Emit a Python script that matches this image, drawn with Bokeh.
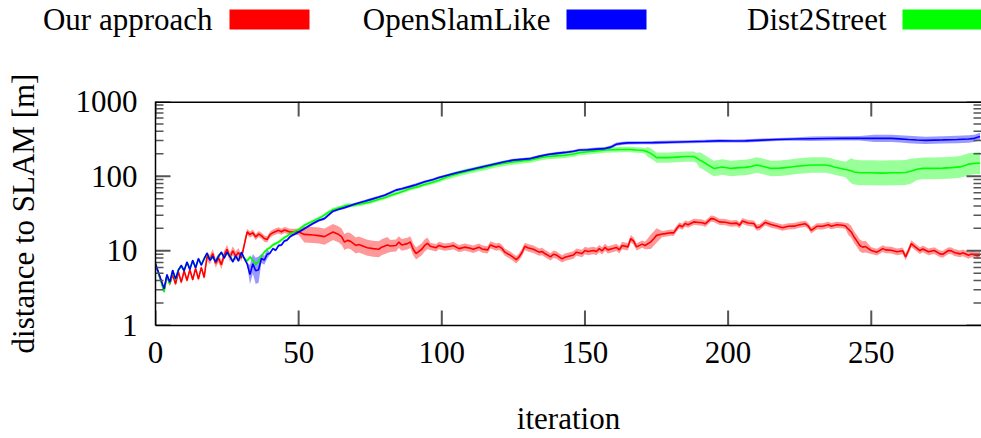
import numpy as np
from bokeh.plotting import figure
from bokeh.layouts import column
from bokeh.models import Range1d, FixedTicker, PrintfTickFormatter
from bokeh.embed import file_html
from bokeh.resources import INLINE

FONT = "Liberation Serif"
FS = "31px"

# ---------------- data ----------------
series_names = ["Our approach", "OpenSlamLike", "Dist2Street"]
series_colors = ["#ff0000", "#0000ff", "#00ff00"]
x_title = "iteration"
y_title = "distance to SLAM [m]"

x_ticks = [0, 50, 100, 150, 200, 250]
y_ticks = [1, 10, 100, 1000]
x_max = 288.5

# Our approach (red)
red_iter_early = list(range(0, 51))
red_early = [6.5, 5.0, 3.9, 3.0, 4.6, 3.6, 4.8, 3.6, 5.2, 3.8,
             5.4, 4.0, 5.6, 4.1, 5.8, 4.2, 6.0, 4.4, 8.5, 7.6,
             9.2, 6.8, 8.0, 6.5, 8.8, 10.5, 8.2, 10.0, 8.5, 9.5,
             8.0, 12.0, 17.9, 16.5, 17.5, 15.3, 16.8, 16.0, 14.6, 14.2,
             16.5, 17.5, 18.2, 18.8, 18.0, 19.0, 18.5, 17.9, 17.9, 18.0,
             17.9]
red_iter_late = [52, 55, 57, 59, 62, 64, 65, 66, 67, 68,
                 70, 71, 74, 76, 78, 79, 81, 82, 84, 85,
                 86, 88, 89, 90, 91, 93, 94, 95, 96, 98,
                 99, 101, 103, 104, 106, 108, 110, 111, 113, 114,
                 116, 117, 119, 120, 121, 122, 124, 126, 127, 128,
                 129, 130, 132, 134, 135, 136, 138, 139, 140, 142,
                 143, 144, 146, 147, 149, 150, 151, 153, 154, 155,
                 156, 157, 158, 160, 161, 162, 163, 165, 166, 167,
                 168, 170, 171, 173, 174, 175, 177, 178, 180, 181,
                 182, 183, 184, 185, 186, 188, 189, 191, 192, 194,
                 195, 197, 199, 201, 203, 204, 205, 207, 209, 210,
                 211, 213, 215, 217, 219, 221, 223, 225, 227, 228,
                 229, 231, 233, 235, 236, 238, 240, 241, 242, 243,
                 244, 245, 246, 247, 248, 250, 252, 254, 255, 257,
                 259, 261, 262, 263, 264, 265, 267, 268, 270, 272,
                 274, 275, 277, 278, 279, 281, 282, 284, 285, 287,
                 288]
red_late = [16.6, 16.3, 16.0, 15.5, 17.9, 16.5, 15.5, 13.1, 13.8, 13.5,
            11.8, 12.2, 11.0, 10.7, 10.5, 11.2, 12.0, 11.6, 11.8, 13.1,
            12.0, 12.5, 13.1, 10.5, 9.2, 10.5, 11.8, 12.6, 11.5, 11.0,
            11.8, 11.2, 11.5, 11.8, 10.7, 11.2, 10.8, 10.5, 11.2, 10.6,
            10.3, 12.0, 11.2, 11.5, 10.8, 9.6, 8.7, 7.6, 8.3, 9.5,
            11.5, 11.0, 10.5, 9.6, 9.8, 9.2, 8.3, 9.0, 8.8, 7.8,
            8.2, 8.4, 8.8, 9.6, 9.2, 10.1, 9.8, 10.1, 9.8, 10.7,
            10.0, 11.1, 10.3, 10.8, 11.1, 10.3, 11.8, 11.3, 14.6, 13.5,
            11.3, 12.3, 11.8, 13.2, 14.5, 16.1, 16.8, 17.0, 17.5, 17.4,
            19.8, 22.0, 21.0, 23.2, 22.4, 24.4, 24.2, 23.8, 23.0, 27.0,
            26.8, 24.4, 24.2, 23.2, 23.5, 22.0, 25.1, 23.6, 23.2, 20.4,
            20.8, 24.0, 22.5, 21.5, 20.4, 21.3, 21.4, 22.4, 23.0, 21.5,
            18.8, 21.3, 21.3, 22.3, 21.4, 22.3, 22.0, 21.5, 19.5, 17.9,
            15.3, 13.5, 11.8, 11.2, 11.4, 10.1, 9.6, 10.7, 10.3, 10.2,
            9.7, 10.0, 8.3, 10.1, 12.5, 11.6, 10.1, 10.6, 9.7, 10.1,
            9.1, 9.0, 10.1, 10.0, 9.5, 9.1, 9.4, 8.7, 9.1, 8.6,
            8.8]
red_spread_start = [0, 18, 30, 52, 82, 96, 172, 177, 242, 249]
red_spread = [1.07, 1.15, 1.1, 1.28, 1.2, 1.12, 1.25, 1.1, 1.2, 1.11]

# OpenSlamLike (blue)
blue_iter_early = list(range(0, 51))
blue_early = [6.7, 5.2, 4.0, 3.1, 4.8, 3.8, 5.5, 4.2, 5.5, 6.4,
              5.4, 7.1, 5.6, 7.5, 5.9, 7.9, 6.4, 7.9, 9.3, 7.5,
              8.4, 7.1, 8.4, 9.6, 8.0, 9.6, 8.4, 7.1, 8.6, 7.3,
              9.6, 7.9, 6.7, 4.8, 6.7, 5.4, 5.6, 7.9, 7.5, 9.0,
              9.3, 10.7, 10.2, 11.8, 12.0, 13.5, 14.0, 15.5, 16.3, 17.0,
              17.9]
blue_iter_late = [52, 55, 57, 59, 62, 64, 66, 70, 73, 75,
                  78, 80, 84, 86, 89, 91, 94, 97, 99, 102,
                  105, 108, 111, 114, 117, 119, 122, 125, 128, 131,
                  134, 137, 140, 143, 146, 148, 151, 154, 157, 159,
                  161, 163, 165, 170, 174, 180, 186, 192, 197, 202,
                  206, 212, 217, 223, 229, 235, 240, 246, 251, 257,
                  260, 263, 266, 269, 272, 275, 280, 284, 286, 288]
blue_late = [19.8, 23.2, 25.5, 27.0, 34.0, 36.0, 37.9, 42.8, 46.0, 48.5,
             52.5, 55.5, 65.0, 68.0, 73.0, 77.0, 84.0, 90.0, 95.8, 103,
             110, 117, 125, 133, 141, 147, 156, 164, 168, 172,
             184, 195, 202, 208, 216, 224, 226, 230, 234, 245,
             268, 275, 279, 280, 281, 285, 289, 293, 297, 296,
             297, 304, 310, 314, 317, 319, 321, 322, 321, 321,
             316, 310, 305, 302, 304, 306, 310, 315, 321, 340]
blue_spread_start = [0, 33, 35, 37, 40, 150, 225, 250]
blue_spread = [1.04, 1.35, 1.5, 1.15, 1.04, 1.05, 1.07, 1.12]

# Dist2Street (green)
green_iter_early = list(range(0, 51))
green_early = [6.8, 5.0, 3.8, 2.8, 4.7, 3.6, 5.4, 4.1, 5.6, 6.2,
               5.5, 7.0, 5.8, 7.3, 6.0, 7.8, 6.6, 7.7, 9.1, 7.8,
               8.2, 7.3, 8.6, 9.4, 8.2, 9.4, 8.6, 7.3, 8.4, 7.5,
               9.4, 8.0, 7.3, 8.3, 7.5, 6.6, 7.2, 8.5, 9.6, 10.5,
               11.0, 12.0, 12.5, 13.1, 14.0, 15.0, 15.8, 17.0, 17.5, 18.5,
               19.2]
green_iter_late = [52, 55, 58, 60, 62, 65, 67, 69, 71, 73,
                   75, 78, 80, 83, 85, 87, 89, 92, 94, 96,
                   99, 102, 105, 108, 111, 114, 117, 119, 122, 125,
                   128, 131, 134, 137, 140, 143, 146, 148, 151, 154,
                   157, 160, 163, 166, 168, 170, 171, 172, 173, 174,
                   175, 179, 182, 185, 188, 189, 190, 191, 193, 195,
                   198, 201, 204, 206, 208, 210, 212, 213, 215, 218,
                   220, 222, 224, 227, 229, 232, 234, 236, 237, 239,
                   241, 243, 244, 246, 250, 254, 257, 260, 262, 264,
                   266, 268, 271, 275, 278, 281, 283, 284, 286, 288]
green_late = [22.0, 25.0, 28.5, 32.0, 35.5, 38.5, 40.8, 40.8, 42.0, 43.5,
              45.0, 49.0, 51.5, 57.0, 60.0, 64.0, 68.2, 73.0, 77.5, 81.0,
              88.0, 98.0, 106, 114, 121, 128, 136, 142, 149, 155,
              160, 165, 175, 183, 187, 191, 198, 206, 212, 218,
              224, 226, 228, 228, 224, 222, 218, 210, 202, 190,
              177, 177, 180, 183, 183, 175, 165, 158, 141, 127,
              133, 127, 130, 131, 135, 141, 136, 133, 127, 128,
              130, 133, 136, 139, 141, 141, 141, 137, 133, 128,
              123, 118, 114, 111, 111, 110, 111, 111, 112, 117,
              124, 127, 127, 128, 130, 133, 140, 145, 148, 150]
green_spread_start = [0, 60, 100, 150, 172, 190, 243, 266]
green_spread = [1.05, 1.06, 1.09, 1.09, 1.17, 1.27, 1.47, 1.4]


def band(xs, ys, starts, factors):
    xs = np.asarray(xs, dtype=float)
    ys = np.asarray(ys, dtype=float)
    idx = np.searchsorted(np.asarray(starts), xs, side="right") - 1
    f = np.asarray(factors)[idx]
    return xs, ys, ys / f, ys * f


series = [
    (red_iter_early + red_iter_late, red_early + red_late, red_spread_start, red_spread, series_colors[0]),
    (green_iter_early + green_iter_late, green_early + green_late, green_spread_start, green_spread, series_colors[2]),
    (blue_iter_early + blue_iter_late, blue_early + blue_late, blue_spread_start, blue_spread, series_colors[1]),
]

# ---------------- layout constants ----------------
W = 981
LEFT = 155
LEG_H = 50            # legend strip on top
BOT_H = 60            # strip holding the x-axis title
MAIN_H = 438 - LEG_H - BOT_H
FRAME_TOP = 101 - LEG_H
FRAME_BOTTOM_BORDER = MAIN_H - (325 - LEG_H)
FRAME_W = W - LEFT
FRAME_H = MAIN_H - FRAME_TOP - FRAME_BOTTOM_BORDER
TICK_COLOR = "#555555"
MAJOR_PX, MINOR_PX = 15, 8

# ---------------- main plot ----------------
p = figure(width=W, height=MAIN_H, x_range=Range1d(0, x_max), y_range=Range1d(y_ticks[0], y_ticks[-1]),
           y_axis_type="log", toolbar_location=None, output_backend="svg",
           min_border_left=LEFT, min_border_right=0, min_border_top=FRAME_TOP,
           min_border_bottom=FRAME_BOTTOM_BORDER,
           background_fill_color="white", border_fill_color="white")
p.grid.visible = False
p.outline_line_color = None

for xs, ys, st, fa, col in series:
    x, y, lo, hi = band(xs, ys, st, fa)
    p.varea(x=x, y1=lo, y2=hi, fill_color=col, fill_alpha=0.4)
for xs, ys, st, fa, col in series:
    p.line(x=xs, y=ys, line_color=col, line_width=1.6)

xt = FixedTicker(ticks=x_ticks, minor_ticks=[])
y_minor = [m * d for d in y_ticks[:-1] for m in range(2, 10)]
yt = FixedTicker(ticks=y_ticks, minor_ticks=y_minor)

for ax in (p.xaxis[0], p.yaxis[0]):
    ax.major_tick_line_color = None
    ax.minor_tick_line_color = None
    ax.major_tick_out = 0
    ax.minor_tick_out = 0
    ax.axis_line_color = "black"
    ax.axis_line_width = 1.5
    ax.major_label_text_font = FONT
    ax.major_label_text_font_size = FS
    ax.major_label_text_color = "black"
    ax.axis_label_text_font = FONT
    ax.axis_label_text_font_size = FS
    ax.axis_label_text_font_style = "normal"
    ax.axis_label_text_color = "black"

xa = p.xaxis[0]
xa.ticker = xt
xa.major_label_standoff = 16

ya = p.yaxis[0]
ya.ticker = yt
ya.formatter = PrintfTickFormatter(format="%d")
ya.axis_label = y_title
ya.major_label_standoff = 18
ya.axis_label_standoff = 32

# inward ticks on all four sides (gnuplot style), drawn as glyphs inside the frame
dx_major = MAJOR_PX * x_max / FRAME_W
dx_minor = MINOR_PX * x_max / FRAME_W
fy_major = 10 ** (MAJOR_PX * 3.0 / FRAME_H)
ymin, ymax = y_ticks[0], y_ticks[-1]
# x ticks bottom / top
p.segment(x0=x_ticks, y0=[ymin] * len(x_ticks), x1=x_ticks, y1=[ymin * fy_major] * len(x_ticks),
          line_color=TICK_COLOR, line_width=2)
p.segment(x0=x_ticks, y0=[ymax] * len(x_ticks), x1=x_ticks, y1=[ymax / fy_major] * len(x_ticks),
          line_color=TICK_COLOR, line_width=2)
# y ticks left / right
p.segment(x0=[0] * len(y_ticks), y0=y_ticks, x1=[dx_major] * len(y_ticks), y1=y_ticks,
          line_color=TICK_COLOR, line_width=2)
p.segment(x0=[x_max] * len(y_ticks), y0=y_ticks, x1=[x_max - dx_major] * len(y_ticks), y1=y_ticks,
          line_color=TICK_COLOR, line_width=2)
p.segment(x0=[0] * len(y_minor), y0=y_minor, x1=[dx_minor] * len(y_minor), y1=y_minor,
          line_color=TICK_COLOR, line_width=1.5)
p.segment(x0=[x_max] * len(y_minor), y0=y_minor, x1=[x_max - dx_minor] * len(y_minor), y1=y_minor,
          line_color=TICK_COLOR, line_width=1.5)
# top border line
p.segment(x0=[0], y0=[ymax], x1=[x_max], y1=[ymax], line_color="black", line_width=3)

# ---------------- legend strip ----------------
leg = figure(width=W, height=LEG_H, x_range=Range1d(0, W), y_range=Range1d(LEG_H, 0),
             toolbar_location=None, output_backend="svg", min_border=0,
             background_fill_color="white", border_fill_color="white")
leg.frame_align = False
leg.axis.visible = False
leg.grid.visible = False
leg.outline_line_color = None
leg_text_right = [212, 550, 886]
leg_box_left = [229, 566, 902]
leg.text(x=leg_text_right, y=[19, 19, 19], text=series_names, text_align="right",
         text_baseline="middle", text_font={"value": FONT}, text_font_size=FS, text_color="black")
leg.quad(left=leg_box_left, right=[v + 80 for v in leg_box_left], top=[9, 9, 9], bottom=[29, 29, 29],
         fill_color=series_colors, line_color=None)

# ---------------- x-axis title strip ----------------
bot = figure(width=W, height=BOT_H, x_range=Range1d(0, W), y_range=Range1d(BOT_H, 0),
             toolbar_location=None, output_backend="svg", min_border=0,
             background_fill_color="white", border_fill_color="white")
bot.frame_align = False
bot.axis.visible = False
bot.grid.visible = False
bot.outline_line_color = None
bot.text(x=[(LEFT + W) / 2], y=[418 - (438 - BOT_H)], text=[x_title], text_align="center",
         text_baseline="middle", text_font={"value": FONT}, text_font_size=FS, text_color="black")

layout = column(leg, p, bot, spacing=0)
open("out.html", "w").write(file_html(layout, INLINE))
